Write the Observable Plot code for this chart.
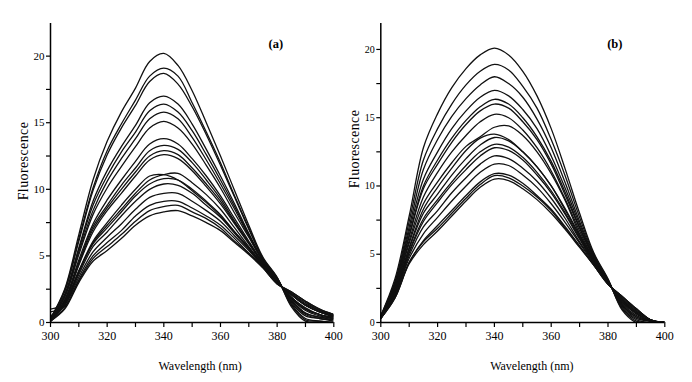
<!DOCTYPE html>
<html><head><meta charset="utf-8">
<script src="https://cdn.jsdelivr.net/npm/d3@7"></script>
<script src="https://cdn.jsdelivr.net/npm/@observablehq/plot@0.6"></script>
<style>
html,body{margin:0;padding:0;background:#fff;}
#wrap{display:flex;width:692px;height:382px;background:#fff;}
#wrap > *{flex:none;}
</style></head><body><div id="wrap"></div>
<script>
const wavelength = [300,305,310,315,320,325,330,335,340,345,350,355,360,365,370,375,380,385,390,395,400];

const panelA = [
  [0.3,2.5,6.6,10.7,13.6,15.8,17.6,19.6,20.2,19.3,17.4,15.0,12.5,9.9,7.3,4.9,3.4,1.2,0.1,0,0],
  [0.3,2.4,6.3,10.1,12.9,14.9,16.7,18.5,19.1,18.5,16.5,14.3,12.0,9.5,7.1,4.8,3.35,1.3,0.2,0.1,0],
  [0.3,2.3,6.1,9.9,12.6,14.6,16.3,18.1,18.7,17.9,16.2,14.1,11.8,9.4,7.0,4.8,3.35,1.4,0.3,0.1,0],
  [0.3,2.1,5.6,9.1,11.4,13.2,14.8,16.5,17.0,16.4,14.9,13.0,11.0,8.9,6.7,4.7,3.25,1.5,0.5,0.3,0.1],
  [0.2,2.0,5.5,8.8,11.0,12.8,14.3,15.9,16.4,15.8,14.4,12.6,10.7,8.7,6.6,4.6,3.25,1.6,0.6,0.3,0.2],
  [0.2,1.9,5.3,8.4,10.6,12.3,13.8,15.3,15.8,15.3,13.9,12.2,10.4,8.5,6.5,4.6,3.2,1.7,0.7,0.4,0.2],
  [0.2,1.9,5.1,8.1,10.1,11.7,13.2,14.6,15.1,14.6,13.4,11.8,10.1,8.2,6.4,4.6,3.2,1.7,0.7,0.4,0.3],
  [0.2,1.7,4.7,7.4,9.2,10.7,12.1,13.4,13.8,13.4,12.3,11.0,9.5,7.8,6.1,4.5,3.1,1.8,0.9,0.5,0.3],
  [0.2,1.6,4.5,7.2,8.8,10.3,11.6,12.9,13.3,13.0,12.0,10.7,9.3,7.6,6.0,4.4,3.1,1.9,1.0,0.6,0.3],
  [0.2,1.6,4.4,7.0,8.6,10.0,11.3,12.5,12.9,12.6,11.6,10.4,9.1,7.5,6.0,4.4,3.1,1.9,1.0,0.6,0.4],
  [0.1,1.5,4.3,6.8,8.4,9.7,11.0,12.2,12.6,12.3,11.4,10.2,8.9,7.4,5.9,4.4,3.1,1.9,1.1,0.6,0.4],
  [0.1,1.4,3.8,6.0,7.3,8.5,9.7,10.7,11.1,11.2,10.5,9.6,8.5,7.1,5.7,4.3,3.0,2.1,1.3,0.8,0.5],
  [0.2,1.5,3.9,6.1,7.5,8.8,10.0,11.0,11.1,10.7,9.9,9.0,8.0,6.8,5.6,4.3,3.0,2.1,1.3,0.8,0.5],
  [0.5,1.3,3.8,5.9,7.1,8.3,9.5,10.4,10.8,10.7,10.0,9.1,8.1,6.8,5.6,4.3,3.0,2.1,1.3,0.8,0.4],
  [0.1,1.3,3.6,5.7,6.8,8.0,9.1,10.0,10.4,10.3,9.7,8.8,7.9,6.7,5.5,4.2,3.0,2.1,1.3,0.8,0.5],
  [1.0,1.4,3.4,5.3,6.4,7.4,8.5,9.4,9.7,9.7,9.1,8.4,7.6,6.5,5.4,4.2,2.95,2.2,1.4,0.9,0.5],
  [0.1,1.1,3.2,5.0,6.0,6.9,8.0,8.8,9.1,9.1,8.6,8.0,7.3,6.3,5.2,4.2,2.95,2.2,1.5,0.9,0.6],
  [0.8,1.2,3.1,4.8,5.7,6.6,7.6,8.4,8.7,8.8,8.3,7.8,7.1,6.1,5.2,4.1,2.9,2.3,1.6,1.0,0.6],
  [0.1,1.0,3.0,4.6,5.4,6.3,7.3,8.0,8.3,8.4,8.0,7.5,6.9,6.0,5.1,4.1,2.9,2.3,1.6,1.0,0.6]
];

const panelB = [
  [0.5,3.2,7.8,12.8,15.3,17.2,18.6,19.6,20.1,19.6,18.4,16.6,14.2,11.2,8.0,5.1,3.2,0.9,0,0,0],
  [0.5,3.0,7.4,11.9,14.2,16.0,17.4,18.4,18.9,18.5,17.3,15.7,13.4,10.7,7.7,5.0,3.15,1.0,0.1,0,0],
  [0.5,2.9,7.0,11.2,13.4,15.1,16.4,17.4,18.0,17.5,16.5,14.9,12.8,10.2,7.4,4.9,3.1,1.1,0.2,0,0],
  [0.4,2.8,6.7,10.5,12.5,14.2,15.5,16.5,17.0,16.6,15.6,14.2,12.2,9.8,7.2,4.8,3.05,1.2,0.3,0.1,0],
  [0.4,2.7,6.4,10.0,11.9,13.5,14.8,15.8,16.35,16.0,15.0,13.6,11.8,9.5,7.0,4.8,3.05,1.3,0.4,0.1,0],
  [0.4,2.6,6.3,9.8,11.6,13.2,14.5,15.5,16.0,15.7,14.7,13.4,11.6,9.3,6.9,4.7,3.0,1.3,0.4,0.1,0],
  [0.4,2.5,6.0,9.2,11.0,12.5,13.7,14.7,15.25,15.0,14.1,12.8,11.1,9.0,6.7,4.6,3.0,1.4,0.5,0.1,0],
  [0.4,2.4,5.8,8.7,10.3,11.7,12.9,13.6,14.3,14.4,13.7,12.5,10.9,8.9,6.5,4.6,2.95,1.5,0.6,0.1,0],
  [0.4,2.3,5.5,8.3,9.9,11.3,12.6,13.5,13.8,13.4,12.5,11.4,10.0,8.3,6.4,4.5,2.95,1.5,0.7,0.1,0],
  [0.4,2.3,5.4,8.0,9.4,10.8,12.0,13.0,13.55,13.3,12.5,11.4,10.0,8.2,6.3,4.5,2.95,1.6,0.7,0.1,0],
  [0.3,2.2,5.2,7.6,9.0,10.3,11.5,12.5,13.05,12.85,12.1,11.0,9.65,8.0,6.2,4.4,2.9,1.6,0.7,0.1,0],
  [0.3,2.1,5.1,7.4,8.8,10.1,11.2,12.2,12.8,12.6,11.9,10.8,9.5,7.9,6.1,4.4,2.9,1.7,0.8,0.2,0],
  [0.3,2.0,4.9,7.0,8.2,9.5,10.6,11.6,12.2,12.0,11.3,10.35,9.1,7.6,5.9,4.4,2.85,1.7,0.8,0.2,0],
  [0.3,2.0,4.7,6.5,7.7,8.9,10.0,11.0,11.6,11.5,10.8,9.9,8.7,7.3,5.8,4.3,2.85,1.8,0.9,0.2,0],
  [0.3,1.9,4.4,6.0,7.1,8.2,9.3,10.3,10.9,10.8,10.2,9.3,8.3,7.0,5.6,4.2,2.8,1.9,1.0,0.2,0],
  [0.3,1.8,4.4,5.9,6.9,8.0,9.1,10.1,10.75,10.6,10.0,9.2,8.2,6.9,5.6,4.2,2.8,1.9,1.0,0.2,0],
  [0.3,1.8,4.3,5.7,6.7,7.8,8.9,9.9,10.5,10.4,9.8,9.0,8.0,6.8,5.5,4.2,2.8,1.9,1.0,0.2,0]
];

const xTicks = [300,320,340,360,380,400];
const xMinorTicks = [310,330,350,370,390];
const yTicks = [0,5,10,15,20];
const yMinorTicks = [2.5,7.5,12.5,17.5];
const panelLabels = ["(a)","(b)"];
const xTitle = "Wavelength (nm)";
const yTitle = "Fluorescence";

const FONT = "'Liberation Serif','Times New Roman',serif";

function makePanel(curves, o) {
  const rows = curves.flatMap((c, i) => c.map((v, j) => ({x: wavelength[j], y: v, id: i})));
  return Plot.plot({
    width: 346, height: 382,
    marginLeft: o.ml, marginRight: o.mr, marginTop: 23, marginBottom: 60,
    style: {fontFamily: FONT, fontSize: "12px", background: "#fff", color: "#000"},
    x: {domain: [300, 400]},
    y: {domain: [0, o.ymax]},
    marks: [
      Plot.line(rows, {x: "x", y: "y", z: "id", stroke: "#111", strokeWidth: 1.3, curve: "catmull-rom", clip: true}),
      Plot.ruleX([300], {stroke: "#000", strokeWidth: 1.5}),
      Plot.ruleY([0], {stroke: "#000", strokeWidth: 1.5}),
      Plot.axisX(xTicks, {anchor: "bottom", tickSize: 5, tickPadding: 4, fontSize: 12, label: null, strokeWidth: 1.2}),
      Plot.axisX(xMinorTicks, {anchor: "bottom", tickSize: 5, tickFormat: () => "", label: null, strokeWidth: 1.2}),
      Plot.axisY(yTicks, {anchor: "left", tickSize: 4, tickPadding: 2, fontSize: o.yfs, label: null, strokeWidth: 1.2}),
      Plot.axisY(yMinorTicks, {anchor: "left", tickSize: 4, tickFormat: () => "", label: null, strokeWidth: 1.2}),
      Plot.text([xTitle], {text: d => d, frameAnchor: "bottom", dx: o.xdx, dy: 44, lineAnchor: "middle", textAnchor: "middle", fontSize: 12, fill: "#000"}),
      Plot.text([yTitle], {text: d => d, frameAnchor: "left", rotate: -90, dx: o.ydx, dy: o.ydy, textAnchor: "middle", lineAnchor: "middle", fontSize: 14, fill: "#000", style: "letter-spacing:0.4px"}),
      Plot.text([o.tag], {text: d => d, frameAnchor: "top-right", dx: o.tdx, dy: 20, lineAnchor: "middle", textAnchor: "middle", fontSize: 12.5, fontWeight: "bold", fill: "#000"})
    ]
  });
}

const wrap = document.getElementById("wrap");
wrap.appendChild(makePanel(panelA, {ml: 50, mr: 12.7, ymax: 22.45, yfs: 11, xdx: 8, ydx: -27, ydy: -12, tdx: -58, tag: panelLabels[0]}));
wrap.appendChild(makePanel(panelB, {ml: 34.3, mr: 27.7, ymax: 21.9, yfs: 10, xdx: 9, ydx: -26, ydy: -24, tdx: -50, tag: panelLabels[1]}));
document.querySelectorAll("svg text").forEach(t => { if (t.textContent === yTitle) t.style.letterSpacing = "0.4px"; });
</script>
</body></html>
